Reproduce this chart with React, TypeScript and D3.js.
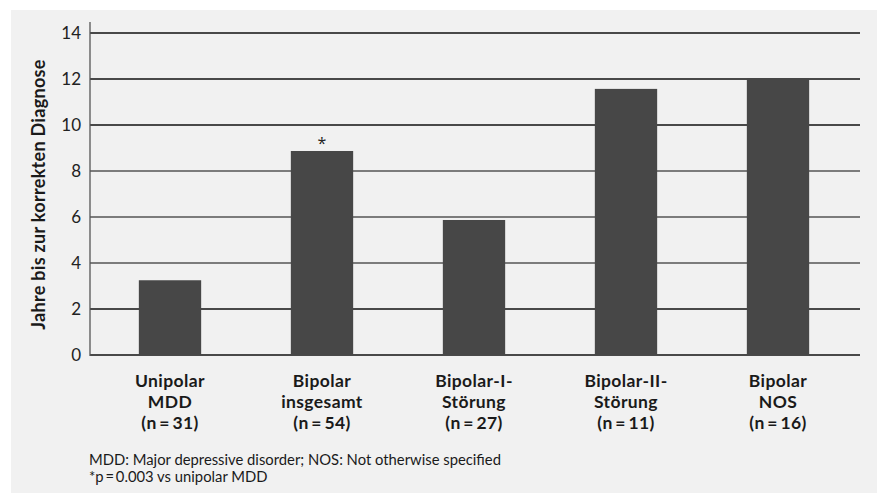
import React from "react";
import * as d3 from "d3";

const categories = [
  ["Unipolar", "MDD", "(n\u2009=\u200931)"],
  ["Bipolar", "insgesamt", "(n\u2009=\u200954)"],
  ["Bipolar-I-", "Störung", "(n\u2009=\u200927)"],
  ["Bipolar-II-", "Störung", "(n\u2009=\u200911)"],
  ["Bipolar", "NOS", "(n\u2009=\u200916)"],
];
const values = [3.25, 8.87, 5.87, 11.57, 12.03];
const marks = ["", "*", "", "", ""];
const yTicks = [0, 2, 4, 6, 8, 10, 12, 14];
const yLabel = "Jahre bis zur korrekten Diagnose";
const footnotes = [
  "MDD: Major depressive disorder; NOS: Not otherwise specified",
  "*p\u2009=\u20090.003 vs unipolar MDD",
];

const W = 882;
const H = 493;
const font = "Lato, 'Open Sans', sans-serif";

export default function App() {
  const x = d3
    .scaleBand<number>()
    .domain(values.map((_, i) => i))
    .range([94, 854])
    .paddingInner(0.59)
    .paddingOuter(0.295);
  const y = d3.scaleLinear().domain([0, 14]).range([355, 33]);
  const gridColor = (t: number) => (t >= 4 && t <= 8 ? "#555" : "#111");
  return (
    <svg
      width={W}
      height={H}
      style={{ position: "absolute", left: 0, top: 0, fontFamily: font }}
    >
      <rect x={0} y={0} width={W} height={H} fill="#fff" />
      <rect x={11} y={10} width={866} height={H - 10} fill="#f1f1f1" />
      {yTicks.map((t) => (
        <g key={t}>
          <line
            x1={90}
            x2={860}
            y1={y(t)}
            y2={y(t)}
            stroke={gridColor(t)}
            strokeWidth={1.3}
          />
          <text
            x={81}
            y={y(t)}
            dy="0.36em"
            textAnchor="end"
            fontSize={17}
            fill="#222"
          >
            {t}
          </text>
        </g>
      ))}
      <line x1={90} x2={90} y1={22} y2={356} stroke="#555" strokeWidth={1.3} />
      {values.map((v, i) => (
        <g key={i}>
          <rect
            x={x(i)}
            y={y(v)}
            width={x.bandwidth()}
            height={y(0) - y(v)}
            fill="#474747"
          />
          {marks[i] && (
            <text
              x={(x(i) as number) + x.bandwidth() / 2}
              y={y(v) - 2}
              textAnchor="middle"
              fontSize={16}
              fontFamily="'Open Sans', sans-serif"
              fill="#222"
            >
              {marks[i]}
            </text>
          )}
          {categories[i].map((line, j) => (
            <text
              key={j}
              x={(x(i) as number) + x.bandwidth() / 2}
              y={386.5 + j * 21}
              textAnchor="middle"
              fontSize={17.5}
              letterSpacing={0.4}
              fontWeight="bold"
              fill="#1a1a1a"
            >
              {line}
            </text>
          ))}
        </g>
      ))}
      <text
        transform={`translate(45,194.5) rotate(-90)`}
        textAnchor="middle"
        fontSize={18}
        letterSpacing={0.3}
        fontWeight="bold"
        fill="#1a1a1a"
      >
        {yLabel}
      </text>
      {footnotes.map((f, i) => (
        <text key={i} x={89} y={465 + i * 17} fontSize={14.8} fill="#1a1a1a">
          {f}
        </text>
      ))}
    </svg>
  );
}
